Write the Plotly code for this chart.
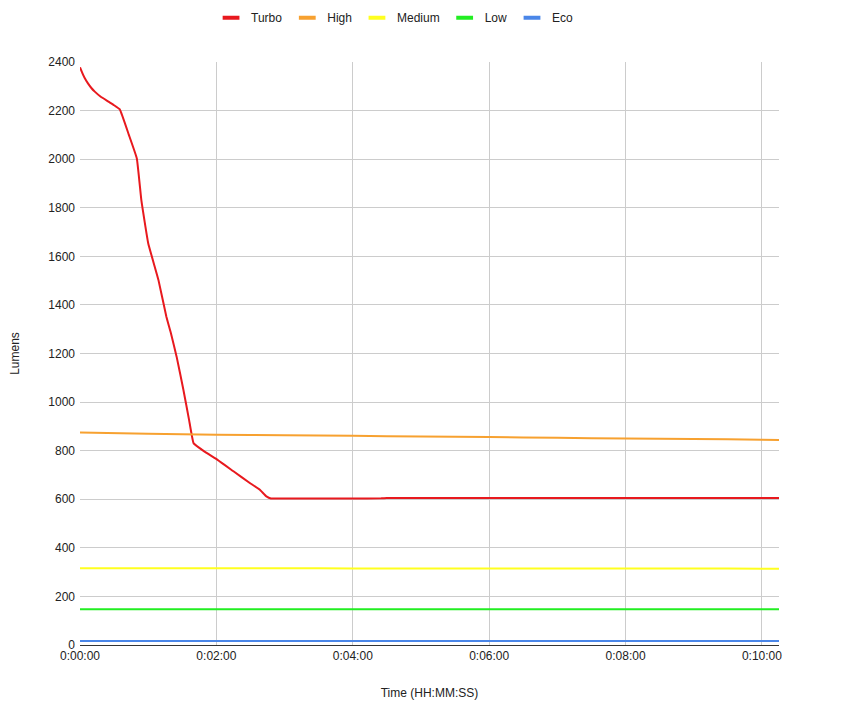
import pandas as pd
import plotly.graph_objects as go

# Turbo has its own (denser) sampling, seconds from start
turbo_seconds = [0, 2, 4, 7, 10, 13, 18, 25, 30, 35, 43, 50, 54, 60, 69, 76, 80, 85, 91,
                 96, 100, 110, 121, 135, 150, 158, 164, 168, 180, 210, 240, 265, 270,
                 300, 360, 420, 480, 540, 600, 615]
turbo_lumens = [2378, 2355, 2335, 2312, 2293, 2278, 2258, 2237, 2222, 2205, 2100, 2003,
                1830, 1654, 1503, 1351, 1283, 1187, 1050, 926, 830, 795, 762, 715, 665,
                640, 612, 603, 603, 603, 603, 604, 605, 605, 605, 605, 605, 605, 605, 605]

# the other modes are sampled once a minute
mode_seconds = [0, 60, 120, 180, 240, 300, 360, 420, 480, 540, 600, 615]
high_lumens = [875, 870, 866, 863, 861, 858, 856, 853, 850, 848, 845, 844]
medium_lumens = [316, 316, 316, 316, 315, 315, 315, 315, 315, 315, 314, 314]
low_lumens = [147, 147, 147, 147, 147, 147, 147, 147, 147, 147, 147, 147]
eco_lumens = [16, 16, 16, 16, 16, 16, 16, 16, 16, 16, 16, 16]

y_ticks = [0, 200, 400, 600, 800, 1000, 1200, 1400, 1600, 1800, 2000, 2200, 2400]


def to_time(seconds):
    return pd.to_datetime(seconds, unit='s')


def build_runtime_chart():
    """
    Line chart of lumen output over time for each flashlight mode
    """
    fig = go.Figure()

    series = [
        ('Turbo', turbo_seconds, turbo_lumens, '#e8191e'),
        ('High', mode_seconds, high_lumens, '#f7a130'),
        ('Medium', mode_seconds, medium_lumens, '#ffff1f'),
        ('Low', mode_seconds, low_lumens, '#22ee22'),
        ('Eco', mode_seconds, eco_lumens, '#4a86e8'),
    ]
    for name, secs, vals, color in series:
        fig.add_trace(go.Scatter(
            x=to_time(secs),
            y=vals,
            name=name,
            mode='lines',
            line=dict(color=color, width=2, shape='spline', smoothing=0.3),
            showlegend=False,
        ))
        # short stub swatch for the legend, like the original sheet chart
        fig.add_trace(go.Scatter(
            x=[None],
            y=[None],
            name=name,
            mode='markers',
            marker=dict(symbol='line-ew-open', size=12, color=color,
                        line=dict(width=4, color=color)),
            showlegend=True,
        ))

    # page body adds an 8px margin, so the figure is a bit smaller than the window
    fig.update_layout(
        width=835,
        height=698,
        paper_bgcolor='white',
        plot_bgcolor='white',
        margin=dict(l=72, r=64, t=54, b=61, autoexpand=False),
        font=dict(family='Liberation Sans, Arial', size=12, color='#222222'),
        legend=dict(
            orientation='h',
            x=0.45, xanchor='center',
            y=1.076, yanchor='middle',
            font=dict(size=12, color='#222222'),
            itemwidth=30,
        ),
        showlegend=True,
    )

    fig.update_xaxes(
        type='date',
        range=[to_time(0), to_time(615)],
        tickformat='%-H:%M:%S',
        dtick=120000,
        tick0=to_time(0),
        showgrid=True,
        gridcolor='#cccccc',
        showline=True,
        linecolor='#333333',
        linewidth=1,
        zeroline=False,
        ticks='',
        title=dict(text='Time (HH:MM:SS)', standoff=26, font=dict(size=12)),
    )
    fig.update_yaxes(
        range=[0, 2400],
        tickvals=y_ticks,
        showgrid=True,
        gridcolor='#cccccc',
        zeroline=False,
        ticks='',
        ticklabelstandoff=4,
        title=dict(text='Lumens', standoff=26, font=dict(size=12)),
    )
    return fig


fig = build_runtime_chart()
fig.write_html("out.html")
